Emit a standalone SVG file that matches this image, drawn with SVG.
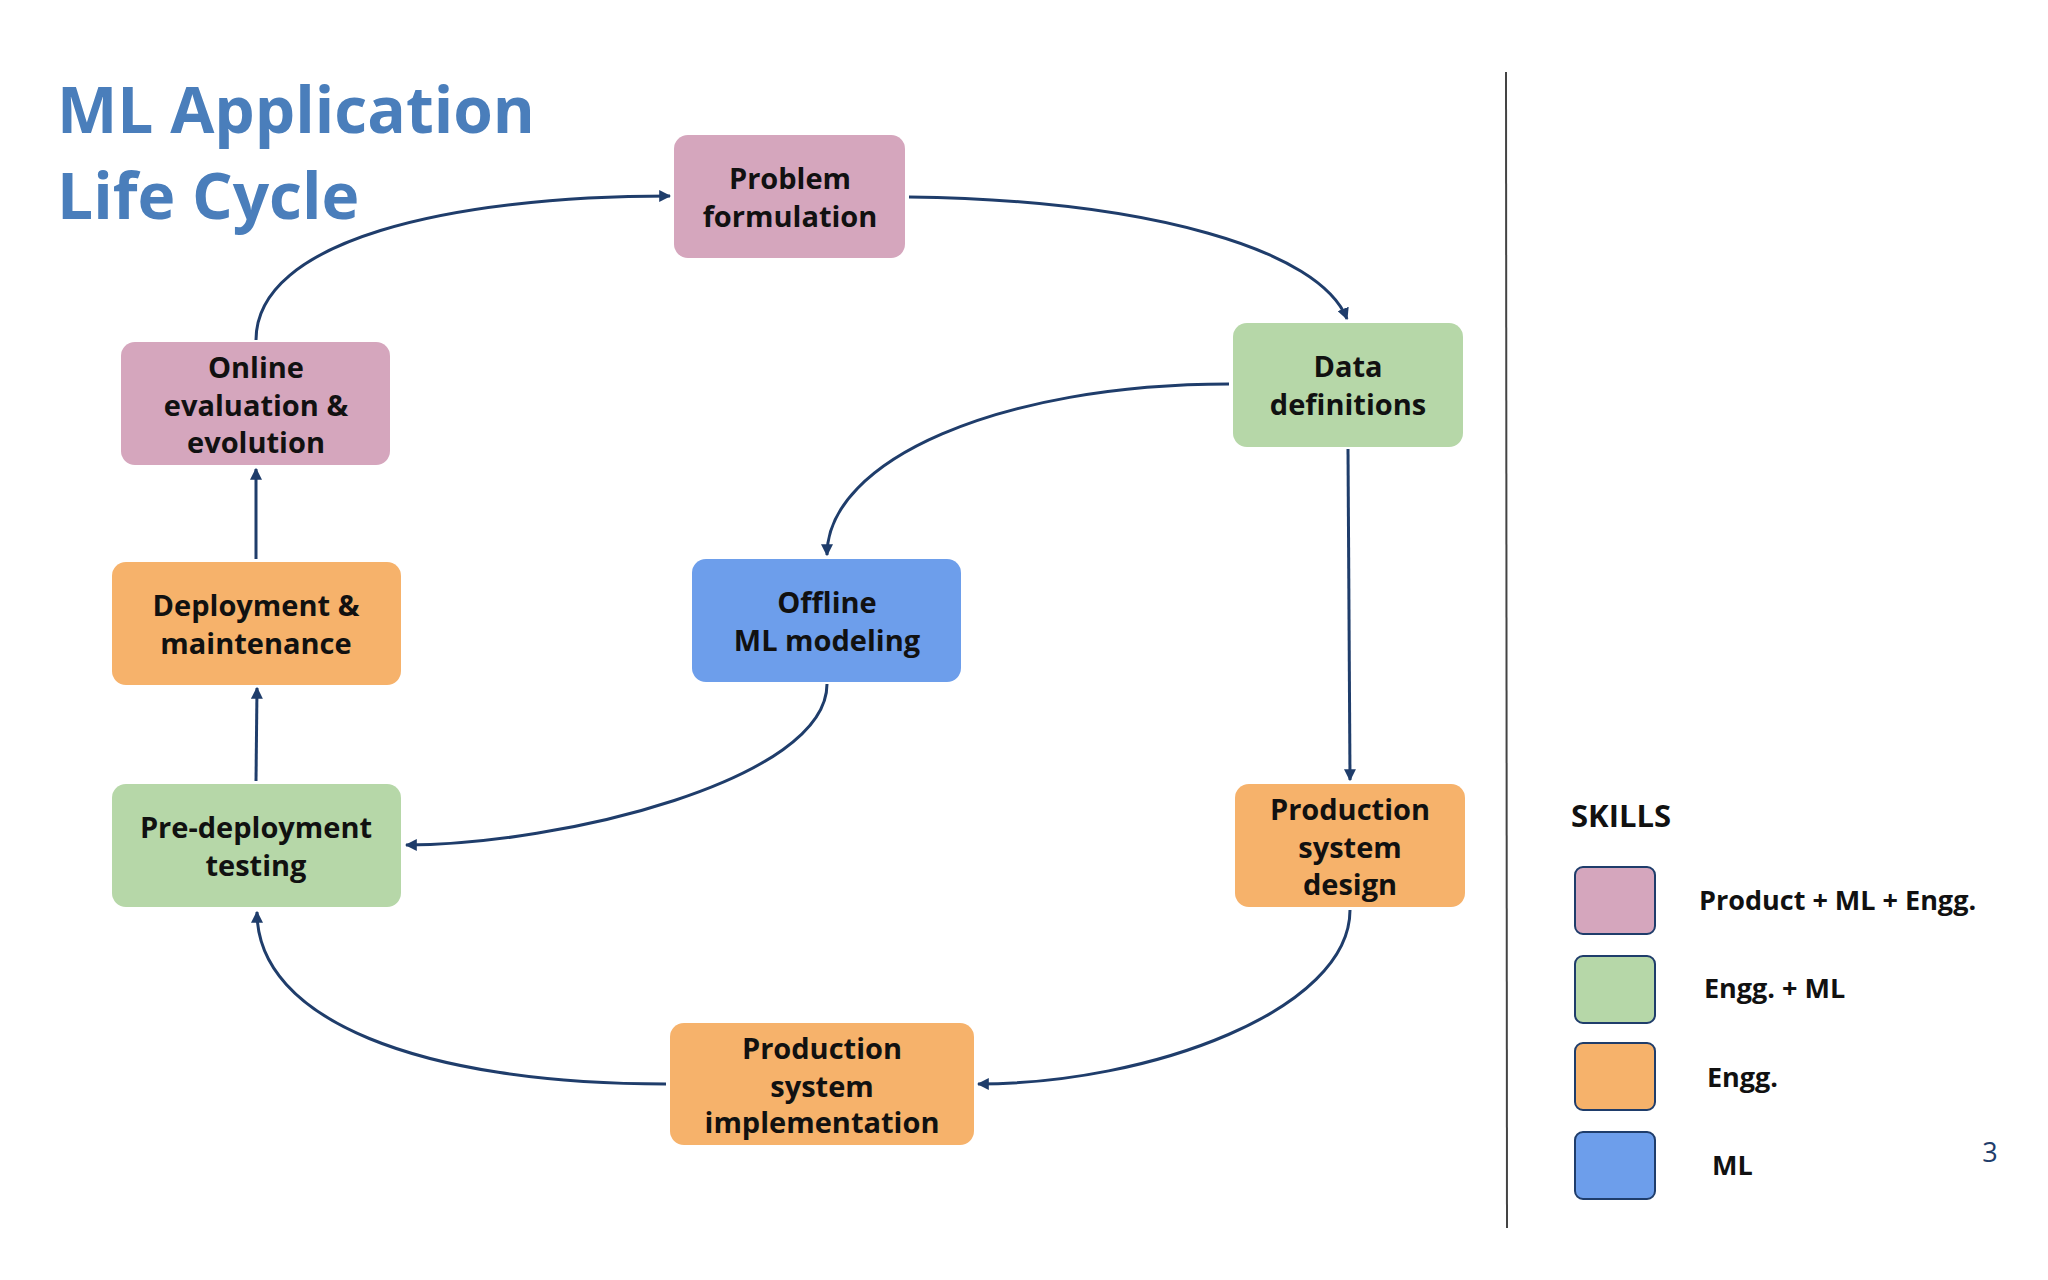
<svg xmlns="http://www.w3.org/2000/svg" width="2048" height="1280" viewBox="0 0 2048 1280">
<style>
text{font-family:"Open Sans","Liberation Sans",sans-serif;font-weight:bold;fill:#111;text-anchor:middle;font-size:29px}
.t{fill:#4a7ebb;font-size:64px;text-anchor:start}
.pk{fill:#d5a6bd}.gr{fill:#b6d7a8}.or{fill:#f6b26b}.bl{fill:#6d9eeb}
.c path{fill:none;stroke:#1f3d6b;stroke-width:3;marker-end:url(#a)}
.lg rect{stroke:#1f3d6b;stroke-width:2}
.lg text{text-anchor:start;font-size:27px}
</style>
<defs><marker id="a" viewBox="0 0 10 10" refX="9" refY="5" markerWidth="4" markerHeight="4" orient="auto"><path d="M0,0L10,5L0,10z" fill="#1f3d6b"/></marker></defs>
<rect width="2048" height="1280" fill="#fff"/>
<text class="t" x="57" y="133">ML Application</text>
<text class="t" x="57" y="219">Life Cycle</text>
<g class="c">
<path d="M256,340 C256,240 450,196 670,196"/>
<path d="M909,197 C1150,200 1320,250 1347,319"/>
<path d="M1229,384 C1000,384 827,460 827,555"/>
<path d="M1348,449 L1350,780"/>
<path d="M1350,910 C1350,1010 1150,1084 978,1084"/>
<path d="M666,1084 C420,1084 257,1020 257,912"/>
<path d="M827,684 C827,780 560,845 406,845"/>
<path d="M256,781 L257,688"/>
<path d="M256,559 L256,469"/>
</g>
<g id="problem"><rect class="pk" x="674" y="135" width="231" height="123" rx="14"/><text x="790" y="189">Problem</text><text x="790" y="227">formulation</text></g>
<g id="data"><rect class="gr" x="1233" y="323" width="230" height="124" rx="14"/><text x="1348" y="377">Data</text><text x="1348" y="415">definitions</text></g>
<g id="online"><rect class="pk" x="121" y="342" width="269" height="123" rx="14"/><text x="256" y="378">Online</text><text x="256" y="416">evaluation &amp;</text><text x="256" y="453">evolution</text></g>
<g id="deploy"><rect class="or" x="112" y="562" width="289" height="123" rx="14"/><text x="256" y="616">Deployment &amp;</text><text x="256" y="654">maintenance</text></g>
<g id="offline"><rect class="bl" x="692" y="559" width="269" height="123" rx="14"/><text x="827" y="613">Offline</text><text x="827" y="651">ML modeling</text></g>
<g id="predeploy"><rect class="gr" x="112" y="784" width="289" height="123" rx="14"/><text x="256" y="838">Pre-deployment</text><text x="256" y="876">testing</text></g>
<g id="psdesign"><rect class="or" x="1235" y="784" width="230" height="123" rx="14"/><text x="1350" y="820">Production</text><text x="1350" y="858">system</text><text x="1350" y="895">design</text></g>
<g id="psimpl"><rect class="or" x="670" y="1023" width="304" height="122" rx="14"/><text x="822" y="1059">Production</text><text x="822" y="1097">system</text><text x="822" y="1133">implementation</text></g>
<line x1="1506" y1="72" x2="1507" y2="1228" stroke="#444" stroke-width="2"/>
<g class="lg">
<text x="1571" y="827" style="font-size:31px">SKILLS</text>
<rect class="pk" x="1575" y="867" width="80" height="67" rx="8"/><text x="1699" y="910">Product + ML + Engg.</text>
<rect class="gr" x="1575" y="956" width="80" height="67" rx="8"/><text x="1704" y="998">Engg. + ML</text>
<rect class="or" x="1575" y="1043" width="80" height="67" rx="8"/><text x="1707" y="1087">Engg.</text>
<rect class="bl" x="1575" y="1132" width="80" height="67" rx="8"/><text x="1712" y="1175">ML</text>
</g>
<text x="1990" y="1162" style="font-weight:normal;fill:#1f3d6b;font-size:27px">3</text>
</svg>
